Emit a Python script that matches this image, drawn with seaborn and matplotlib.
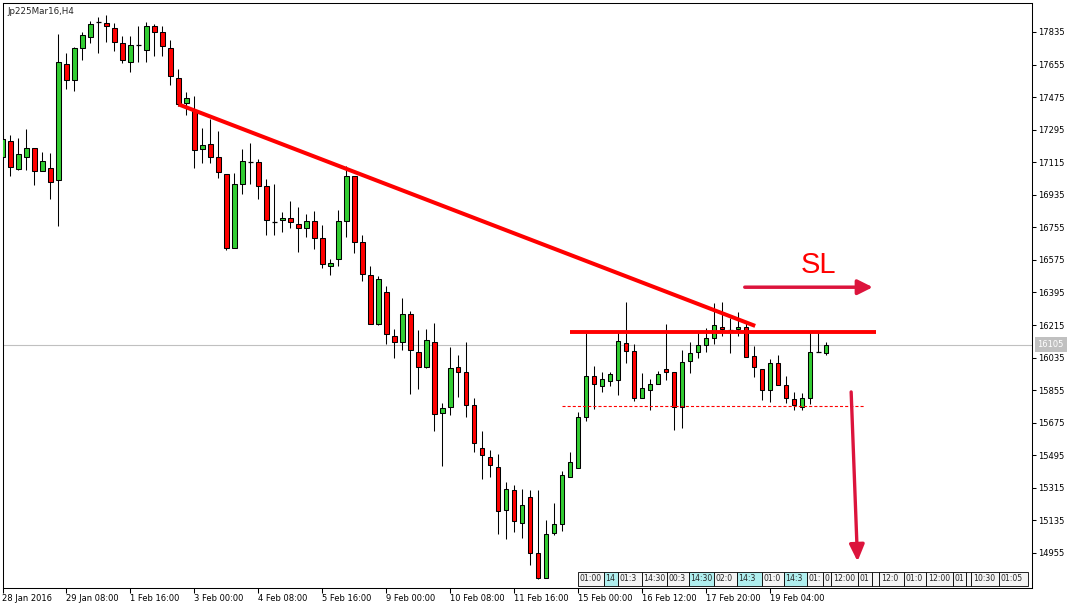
import numpy as np
import pandas as pd
import matplotlib
matplotlib.use("Agg")
import matplotlib.pyplot as plt
from matplotlib.patches import Rectangle
import seaborn as sns

# H4 bars of Jp225Mar16, 28 Jan - 19 Feb 2016
opens = [17142, 17231, 17079, 17146, 17192, 17068, 17082, 17015, 17656, 17571,
         17745, 17806, 17892, 17883, 17855, 17773, 17671, 17763, 17737, 17867,
         17833, 17745, 17579, 17443, 17404, 17187, 17214, 17142, 17048, 16639,
         16993, 17115, 17115, 16982, 16786, 16794, 16805, 16772, 16750, 16789,
         16695, 16540, 16579, 16790, 17037, 16672, 16490, 16219, 16396, 16153,
         16120, 16274, 16064, 15982, 16120, 15727, 15760, 15982, 15954, 15771,
         15534, 15484, 15429, 15191, 15302, 15119, 15263, 14953, 14815, 15064,
         15114, 15373, 15423, 15705, 15932, 15876, 15904, 15910, 16114, 16070,
         15810, 15854, 15887, 15970, 15954, 15760, 16015, 16064, 16103, 16142,
         16203, 16189, 16192, 16203, 16042, 15970, 15854, 16004, 15882, 15805,
         15760, 15810, 16064, 16059]
highs = [17266, 17266, 17249, 17299, 17192, 17172, 17164, 17824, 17721, 17754,
         17833, 17896, 17920, 17927, 17883, 17813, 17813, 17870, 17889, 17878,
         17870, 17789, 17629, 17503, 17480, 17303, 17356, 17286, 17048, 17054,
         17187, 17220, 17135, 17021, 16993, 16838, 16899, 16866, 16827, 16844,
         16766, 16579, 16851, 17093, 17037, 16711, 16540, 16485, 16429, 16193,
         16363, 16291, 16186, 16192, 16225, 15782, 16092, 16048, 16121, 15810,
         15628, 15523, 15500, 15346, 15329, 15307, 15302, 15302, 15136, 15230,
         15407, 15512, 15733, 16169, 15987, 15954, 15954, 16175, 16341, 16109,
         15948, 15915, 15959, 16219, 15954, 16075, 16120, 16181, 16199, 16335,
         16341, 16252, 16286, 16230, 16098, 15970, 16026, 16048, 15932, 15843,
         15838, 16175, 16175, 16120]
lows = [17127, 17039, 17072, 17072, 16989, 17068, 16913, 16763, 17520, 17511,
        17680, 17773, 17721, 17781, 17730, 17662, 17616, 17671, 17671, 17704,
        17701, 17542, 17426, 17376, 17082, 17112, 17112, 17030, 16630, 16639,
        16941, 16996, 16910, 16711, 16711, 16728, 16750, 16620, 16702, 16634,
        16529, 16490, 16543, 16703, 16611, 16457, 16219, 16213, 16108, 16030,
        16076, 15836, 15863, 15976, 15631, 15437, 15716, 15819, 15705, 15515,
        15362, 15373, 15058, 15031, 15069, 15036, 14887, 14810, 14815, 15053,
        15075, 15373, 15423, 15682, 15749, 15843, 15876, 15827, 16004, 15794,
        15810, 15744, 15887, 15910, 15635, 15644, 15948, 16031, 16066, 16109,
        16153, 16059, 16153, 16037, 15926, 15799, 15788, 15882, 15782, 15744,
        15744, 15777, 16064, 16048]
closes = [17242, 17087, 17161, 17192, 17068, 17120, 17007, 17669, 17568, 17745,
          17818, 17878, 17892, 17867, 17781, 17679, 17761, 17763, 17867, 17837,
          17756, 17590, 17439, 17468, 17185, 17209, 17142, 17061, 16639, 16993,
          17120, 17115, 16982, 16794, 16786, 16805, 16783, 16750, 16789, 16695,
          16551, 16556, 16790, 17037, 16672, 16496, 16219, 16468, 16164, 16120,
          16274, 16075, 15982, 16131, 15722, 15755, 15976, 15954, 15771, 15561,
          15495, 15440, 15185, 15307, 15130, 15219, 14953, 14815, 15058, 15114,
          15384, 15456, 15705, 15932, 15887, 15915, 15943, 16125, 16070, 15810,
          15865, 15887, 15943, 15954, 15760, 16009, 16059, 16103, 16142, 16214,
          16192, 16189, 16203, 16037, 15982, 15854, 16004, 15882, 15810, 15771,
          15810, 16064, 16064, 16105]

# time axis: a label every 8 bars
date_ticks = [0, 8, 16, 24, 32, 40, 48, 56, 64, 72, 80, 88, 96]
date_labels = ["28 Jan 2016", "29 Jan 08:00", "1 Feb 16:00", "3 Feb 00:00",
               "4 Feb 08:00", "5 Feb 16:00", "9 Feb 00:00", "10 Feb 08:00",
               "11 Feb 16:00", "15 Feb 00:00", "16 Feb 12:00", "17 Feb 20:00",
               "19 Feb 04:00"]
price_ticks = list(range(14955, 17836, 180))
last_price = 16105

# drawn objects (bar index, price)
trend_x = [22, 94.1]
trend_y = [17435, 16210]
resist_x = [70.9, 109.2]
resist_y = 16178
support_x = [69.9, 107.8]
support_y = 15766
sl_x = [92.8, 108.8]
sl_y = 16424
sl_label_pos = (102.0, 16547)
down_x = [106.1, 106.9]
down_y = [15845, 14908]

# economic calendar markers along the bottom (start bar, time, highlighted)
event_start = [72.0, 75.2, 76.9, 79.9, 83.1, 85.8, 89.0, 91.8, 94.9, 97.7, 100.6,
               102.6, 103.6, 106.9, 108.7, 109.6, 112.7, 115.5, 118.8, 120.5,
               121.1, 124.6]
event_end = 128.2
event_text = ["01:00", "14:30", "01:30", "14:30", "00:30", "14:30", "02:00",
              "14:30", "01:00", "14:30", "01:00", "01:00", "12:00", "01:00",
              "01:00", "12:00", "01:00", "12:00", "01:00", "01:00", "10:30", "01:05"]
event_hot = [False, True, False, False, False, True, False, True, False, True,
             False, False, False, False, False, False, False, False, False,
             False, False, False]

GREEN = "#32CD32"
RED = "#FF0000"
CRIMSON = "#DC143C"
PX_PER_BAR = 8


def fit_label(label, width_px):
    # cut a marker label to the characters that fit in its box
    out, used = "", 3.0
    for ch in label:
        w = 2.6 if ch == ":" else 4.95
        if used + w > width_px:
            break
        out += ch
        used += w
    return out


sns.set_theme(style="white")
plt.rcParams["font.family"] = ["DejaVu Sans"]
plt.rcParams["lines.scale_dashes"] = False

bars = pd.DataFrame({"open": opens, "high": highs, "low": lows, "close": closes})
bars["x"] = np.arange(len(bars))
up = bars[bars.close > bars.open]
down = bars[bars.close < bars.open]
doji = bars[bars.close == bars.open]

fig = plt.figure(figsize=(10.84, 6.08), dpi=100)
ax = fig.add_axes([2.5 / 1084, 20 / 608, (1032 - 2.5) / 1084, (588 - 2.5) / 608])

# current price line
ax.axhline(last_price, color="#C0C0C0", lw=0.8, zorder=1)

# candles
ax.vlines(bars.x, bars.low, bars.high, color="black", lw=0.75, zorder=2)
ax.bar(up.x, up.close - up.open, bottom=up.open, width=0.52, color=GREEN,
       edgecolor="black", linewidth=0.75, zorder=3)
ax.bar(down.x, down.open - down.close, bottom=down.close, width=0.52, color=RED,
       edgecolor="black", linewidth=0.75, zorder=3)
ax.hlines(doji.close, doji.x - 0.32, doji.x + 0.32, color="black", lw=0.9, zorder=3)

# analysis objects
ax.plot(trend_x, trend_y, color=RED, lw=2.9, solid_capstyle="butt", zorder=4)
ax.plot(resist_x, [resist_y] * 2, color=RED, lw=2.8, solid_capstyle="butt", zorder=4)
ax.plot(support_x, [support_y] * 2, color=RED, lw=0.8, dashes=(2.2, 1.5), zorder=4)
ax.annotate("", xy=(sl_x[1], sl_y), xytext=(sl_x[0], sl_y),
            arrowprops=dict(arrowstyle="-|>,head_length=0.9,head_width=0.45",
                            mutation_scale=10, lw=2.5, color=CRIMSON,
                            shrinkA=0, shrinkB=0), zorder=5)
ax.annotate("", xy=(down_x[1], down_y[1]), xytext=(down_x[0], down_y[0]),
            arrowprops=dict(arrowstyle="-|>,head_length=1.0,head_width=0.45",
                            mutation_scale=10, lw=2.4, color=CRIMSON,
                            shrinkA=0, shrinkB=0), zorder=5)
ax.text(sl_label_pos[0], sl_label_pos[1], "SL", color=RED, fontsize=21,
        family="Liberation Sans", ha="center", va="center", zorder=5)

# calendar markers
edges = event_start + [event_end]
tr = ax.get_xaxis_transform()
for i, label in enumerate(event_text):
    x0, x1 = edges[i], edges[i + 1]
    z = 6 + i * 0.01
    rect = Rectangle((x0, 0.004), x1 - x0, 0.024, transform=tr,
                     facecolor="#AFEEEE" if event_hot[i] else "#F4F4F4",
                     edgecolor="black", lw=0.6, zorder=z, clip_on=False)
    ax.add_patch(rect)
    shown = fit_label(label, (x1 - x0) * PX_PER_BAR)
    if shown:
        ax.text(x0 + 0.2, 0.016, shown, transform=tr, fontsize=5.6,
                ha="left", va="center", zorder=z + 0.005)

ax.set_xlim(0.03, 128.71)
ax.set_ylim(14761, 17998)

ax.yaxis.tick_right()
ax.set_yticks(price_ticks)
ax.set_yticklabels([str(p) for p in price_ticks], fontsize=6)
ax.tick_params(axis="y", direction="out", length=3, width=0.75, pad=1.5,
               colors="black", right=True)
ax.set_xticks(date_ticks)
ax.set_xticklabels(date_labels, fontsize=6, ha="left")
ax.tick_params(axis="x", direction="out", length=3.5, width=0.75, pad=0.5,
               colors="black", bottom=True)
for s in ax.spines.values():
    s.set_color("black")
    s.set_linewidth(0.75)

ax.annotate(str(last_price), xy=(1, last_price), xycoords=ax.get_yaxis_transform(),
            xytext=(4.0, 0), textcoords="offset points", fontsize=6, color="white",
            ha="left", va="center", annotation_clip=False,
            bbox=dict(boxstyle="square,pad=0.35", fc="#C0C0C0", ec="none"))

ax.text(0.0045, 0.993, "Jp225Mar16,H4", transform=ax.transAxes, fontsize=6.3,
        ha="left", va="top")

fig.savefig("out.png", dpi=100, facecolor="white")
